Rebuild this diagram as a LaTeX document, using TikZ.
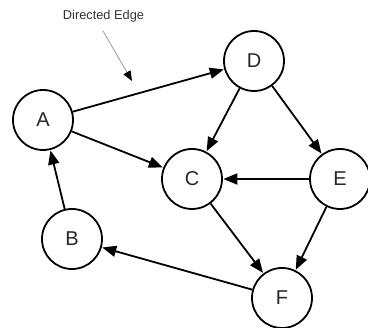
\documentclass[tikz,border=0pt]{standalone}
\usepackage{fontspec}
\setmainfont{Liberation Sans}
\usetikzlibrary{arrows.meta}
\begin{document}
\begin{tikzpicture}[x=1pt,y=-1pt,
  vert/.style={circle,draw=black,line width=1.8pt,minimum size=60pt,inner sep=0pt,font=\fontsize{20}{20}\selectfont,text=black!85},
  edge/.style={line width=1.8pt,-{Triangle[length=14pt,width=11pt]},shorten >=0.5pt},
  pointer/.style={draw=black!40,line width=0.8pt,-{Triangle[length=10pt,width=8pt,color=black]}}]
\useasboundingbox (0,0) rectangle (368,328);
\node[vert] (A) at (43,120) {A};
\node[vert] (D) at (254,61) {D};
\node[vert] (C) at (192,179) {C};
\node[vert] (E) at (340,179) {E};
\node[vert] (B) at (72,239) {B};
\node[vert] (F) at (282,298) {F};
\node[font=\fontsize{12.8}{13}\selectfont,text=black!80] (lbl) at (103.5,16) {Directed Edge};
\coordinate (ps) at (103,31);
\coordinate (pe) at (132,81);
\draw[pointer] (ps) -- (pe);
\draw[edge] (A) -- (D);
\draw[edge] (A) -- (C);
\draw[edge] (B) -- (A);
\draw[edge] (D) -- (C);
\draw[edge] (D) -- (E);
\draw[edge] (E) -- (C);
\draw[edge] (E) -- (F);
\draw[edge] (C) -- (F);
\draw[edge] (F) -- (B);
\end{tikzpicture}
\end{document}
